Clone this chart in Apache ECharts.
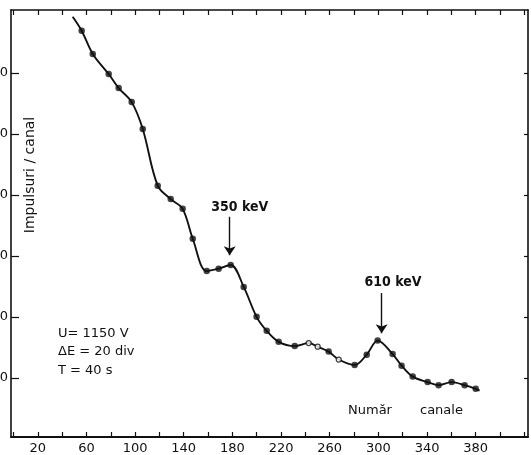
<!DOCTYPE html>
<html>
<head>
<meta charset="utf-8">
<script src="https://cdn.jsdelivr.net/npm/echarts@6/dist/echarts.min.js"></script>
<style>html,body{margin:0;padding:0;background:#fff;}#c{width:531px;height:455px;}</style>
</head>
<body>
<div id="c"></div>
<script>
// measured points (channel, counts)
const channels = [56.1, 65.2, 78.3, 86.5, 97.2, 106.3, 118.6, 129.3, 139.1, 147.4, 158.9, 168.7, 178.6, 189.3, 199.9, 208.2, 218.0, 231.2, 242.7, 250.1, 259.1, 267.4, 280.5, 290.4, 299.4, 311.7, 319.1, 328.2, 340.5, 349.5, 360.2, 370.9, 380.0];
const counts   = [669, 631, 598, 575, 552, 508, 415, 393, 377, 328, 275, 279, 285, 249, 200, 177, 159, 152, 157, 151, 143, 130, 121, 138, 161, 139, 120, 102, 93, 88, 93, 88, 82];
const hollow   = [0,0,0,0,0,0,0,0,0,0,0,0,0,0,0,0,0,0,1,1,0,1,0,0,0,0,0,0,0,0,0,0,0];
// ends of the drawn curve (no marker)
const curveStart = [48.7, 692];
const curveEnd = [383.2, 79];
// ticks / labels
const xTicks = [0,20,40,60,80,100,120,140,160,180,200,220,240,260,280,300,320,340,360,380,400,420];
const xLabels = [20,60,100,140,180,220,260,300,340,380];
const yTicks = [100,200,300,400,500,600];
// annotations
const peakLabels = ['350 keV', '610 keV'];
const peakChannels = [177.8, 302.7];
const infoLines = ['U= 1150 V', '\u0394E = 20 div', 'T = 40 s'];
const xTitleWords = ['Număr', 'canale'];
const yTitle = 'Impulsuri / canal';

const font = 'DejaVu Sans';
const pts = channels.map((c, i) => [c, counts[i]]);
const filled = pts.filter((p, i) => !hollow[i]);
const open = pts.filter((p, i) => hollow[i]);
const curve = [curveStart].concat(pts, [curveEnd]);

const chart = echarts.init(document.getElementById('c'));
chart.setOption({
  animation: false,
  backgroundColor: '#fff',
  grid: {left: 11, right: 3, top: 10, bottom: 18, outerBoundsMode: 'none', containLabel: false},
  xAxis: [
    {type: 'value', position: 'bottom', min: -2, max: 423,
     axisLine: {show: true, onZero: false, lineStyle: {color: '#111', width: 2}},
     axisTick: {show: true, inside: true, length: 5, customValues: xTicks, lineStyle: {color: '#111', width: 1.2}},
     axisLabel: {show: true, customValues: xLabels, color: '#111', fontSize: 13, fontFamily: font, margin: 5},
     splitLine: {show: false}},
    {type: 'value', position: 'top', min: -2, max: 423,
     axisLine: {show: true, onZero: false, lineStyle: {color: '#111', width: 1.6}},
     axisTick: {show: true, inside: true, length: 5, customValues: xTicks, lineStyle: {color: '#111', width: 1.2}},
     axisLabel: {show: false}, splitLine: {show: false}}
  ],
  yAxis: [
    {type: 'value', position: 'left', min: 3, max: 703,
     axisLine: {show: true, onZero: false, lineStyle: {color: '#111', width: 1.6}},
     axisTick: {show: true, inside: true, length: 8, customValues: yTicks, lineStyle: {color: '#111', width: 1.2}},
     axisLabel: {show: true, customValues: yTicks, color: '#111', fontSize: 13, fontFamily: font, margin: 3},
     splitLine: {show: false}},
    {type: 'value', position: 'right', min: 3, max: 703,
     axisLine: {show: true, onZero: false, lineStyle: {color: '#111', width: 1.6}},
     axisTick: {show: true, inside: true, length: 4, customValues: yTicks, lineStyle: {color: '#111', width: 1.2}},
     axisLabel: {show: false}, splitLine: {show: false}}
  ],
  series: [
    {type: 'line', data: curve, smooth: 0.35, showSymbol: false, symbol: 'none',
     lineStyle: {color: '#111', width: 1.9}, z: 2,
     markLine: {silent: true, symbol: ['none', 'arrow'], symbolSize: 9,
       lineStyle: {color: '#111', width: 1.4, type: 'solid'}, label: {show: false},
       emphasis: {disabled: true},
       data: [
         [{coord: [peakChannels[0], 364], symbol: 'none'}, {coord: [peakChannels[0], 301], symbol: 'arrow', symbolSize: 9}],
         [{coord: [peakChannels[1], 239], symbol: 'none'}, {coord: [peakChannels[1], 173], symbol: 'arrow', symbolSize: 9}]
       ]},
     markPoint: {silent: true, symbol: 'rect', symbolSize: 1, itemStyle: {color: 'rgba(0,0,0,0)'},
       label: {show: true, color: '#111', fontSize: 14, fontWeight: 'bold', fontFamily: '"DejaVu Sans Condensed", "Liberation Sans Narrow", "Liberation Sans"', formatter: p => p.name},
       data: [
         {name: peakLabels[0], coord: [186, 380]},
         {name: peakLabels[1], coord: [312, 256]}
       ]}},
    {type: 'scatter', data: filled, symbol: 'circle', symbolSize: 6.5,
     itemStyle: {color: '#111'}, z: 3},
    {type: 'scatter', data: open, symbol: 'circle', symbolSize: 5,
     itemStyle: {color: '#fff', borderColor: '#111', borderWidth: 1.2}, z: 3}
  ],
  graphic: [
    {type: 'text', left: 58, top: 324, style: {text: infoLines.join('\n'), font: '13px "DejaVu Sans"', fill: '#111', lineHeight: 18.5}},
    {type: 'text', left: 348, top: 404, style: {text: xTitleWords[0], font: '13px "DejaVu Sans"', fill: '#111'}},
    {type: 'text', left: 420, top: 404, style: {text: xTitleWords[1], font: '13px "DejaVu Sans"', fill: '#111'}},
    {type: 'text', x: 30, y: 175, rotation: Math.PI / 2, style: {text: yTitle, font: '14px "DejaVu Sans"', fill: '#111', align: 'center', verticalAlign: 'middle'}}
  ]
});
</script>
</body>
</html>
